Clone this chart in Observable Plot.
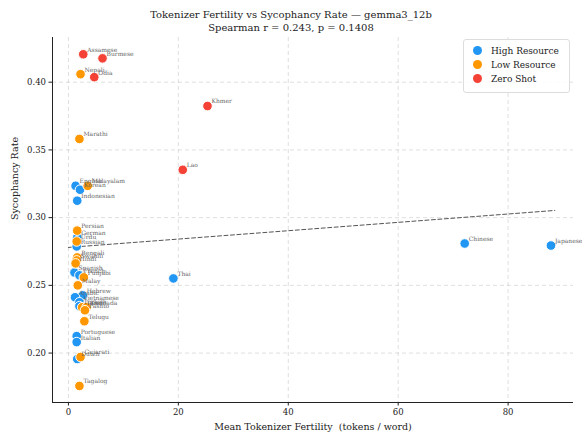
<!DOCTYPE html>
<html><head><meta charset="utf-8">
<script src="https://cdn.jsdelivr.net/npm/d3@7"></script>
<script src="https://cdn.jsdelivr.net/npm/@observablehq/plot@0.6"></script>
<style>
body{margin:0;background:#fff;font-family:"DejaVu Serif",serif;}
#wrap{position:relative;width:582px;height:439px;}
#title{height:37px;text-align:center;font-family:"DejaVu Serif",serif;font-size:10px;line-height:13px;padding-top:8px;box-sizing:border-box;color:#222;}
#legend{position:absolute;left:463px;top:39px;width:107px;height:54px;border:1px solid #ddd;border-radius:3px;background:rgba(255,255,255,0.85);font-family:"DejaVu Serif",serif;font-size:9px;color:#222;box-sizing:border-box;}
#legend .row{position:absolute;left:9px;height:14px;line-height:14px;}
#legend .dot{display:inline-block;width:9px;height:9px;border-radius:50%;margin-right:9px;vertical-align:-1px;}
</style></head>
<body><div id="wrap"><div id="title">Tokenizer Fertility vs Sycophancy Rate — gemma3_12b<br>Spearman r = 0.243,  p = 0.1408</div><div id="chart"></div><div id="legend"></div></div>
<script>
const groups = ["High Resource", "Low Resource", "Zero Shot"];
const groupColors = ["#2196F3", "#FF9800", "#F44336"];

const highLangs = ["English","Korean","Indonesian","German","Russian","Spanish","French","Hebrew","Arabic","Vietnamese","Turkish","Portuguese","Italian","Dutch","Thai","Chinese","Japanese"];
const highFert  = [1.3, 2.1, 1.6, 1.6, 1.5, 1.1, 2.0, 2.6, 1.2, 2.0, 2.0, 1.5, 1.5, 1.6, 19.1, 72.1, 87.8];
const highSyc   = [0.3235, 0.3206, 0.3125, 0.2853, 0.2787, 0.2595, 0.2574, 0.2426, 0.2412, 0.2375, 0.2346, 0.2125, 0.2081, 0.1956, 0.2551, 0.2809, 0.2794];

const lowLangs = ["Nepali","Marathi","Malayalam","Persian","Urdu","Bengali","Swahili","Hindi","Punjabi","Malay","Tamil","Kannada","Pashto","Telugu","Gujarati","Tagalog"];
const lowFert  = [2.2, 2.0, 3.5, 1.6, 1.5, 1.6, 1.5, 1.3, 2.8, 1.7, 2.5, 3.3, 3.0, 2.9, 2.2, 2.0];
const lowSyc   = [0.4059, 0.3581, 0.3235, 0.2904, 0.2824, 0.2706, 0.2684, 0.2662, 0.2559, 0.2500, 0.2338, 0.2338, 0.2316, 0.2235, 0.1971, 0.1757];

const zeroLangs = ["Assamese","Burmese","Odia","Khmer","Lao"];
const zeroFert  = [2.7, 6.2, 4.7, 25.3, 20.8];
const zeroSyc   = [0.4206, 0.4176, 0.4037, 0.3824, 0.3353];

const trendX = [0.0, 88.5];
const trendY = [0.2780, 0.3053];

const xTicks = [0, 20, 40, 60, 80];
const yTicks = [0.20, 0.25, 0.30, 0.35, 0.40];

const rows = [];
[[highLangs, highFert, highSyc], [lowLangs, lowFert, lowSyc], [zeroLangs, zeroFert, zeroSyc]].forEach(([L, F, S], gi) => {
  L.forEach((name, i) => rows.push({name, group: groups[gi], fert: F[i], syc: S[i]}));
});
const trend = trendX.map((x, i) => ({x, y: trendY[i]}));

const chart = Plot.plot({
  width: 582,
  height: 402,
  marginLeft: 52,
  marginRight: 9,
  marginTop: 0,
  marginBottom: 37,
  style: {fontFamily: "DejaVu Serif, serif", fontSize: "8px", color: "#222", background: "white"},
  x: {domain: [-2.9, 91.9], ticks: xTicks, label: null},
  y: {domain: [0.1635, 0.433], ticks: yTicks, label: null, tickFormat: d3.format(".2f")},
  color: {domain: groups, range: groupColors},
  marks: [
    Plot.gridX(xTicks, {stroke: "#bbb", strokeOpacity: 0.6, strokeDasharray: "4,3", strokeWidth: 0.8}),
    Plot.gridY(yTicks, {stroke: "#bbb", strokeOpacity: 0.6, strokeDasharray: "4,3", strokeWidth: 0.8}),
    Plot.axisX({ticks: xTicks, tickSize: 3.5, tickPadding: 3, fontSize: 8.5, label: null}),
    Plot.axisY({ticks: yTicks, tickSize: 3.5, tickPadding: 3, fontSize: 8.5, tickFormat: d3.format(".2f"), label: null}),
    Plot.ruleX([-2.9], {stroke: "#222", strokeWidth: 1}),
    Plot.ruleY([0.1635], {stroke: "#222", strokeWidth: 1}),
    Plot.line(trend, {x: "x", y: "y", stroke: "#555", strokeWidth: 1, strokeDasharray: "4,2.5"}),
    Plot.dot(rows, {x: "fert", y: "syc", fill: "group", r: 4.8, stroke: "white", strokeWidth: 1}),
    Plot.text(rows, {x: "fert", y: "syc", text: "name", dx: 4, dy: -4.5, textAnchor: "start", fontSize: 6, fill: "#666", stroke: "none"}),
    Plot.text(["Mean Tokenizer Fertility  (tokens / word)"], {frameAnchor: "bottom", dy: 27, fontSize: 9.5, fill: "#222"}),
    Plot.text(["Sycophancy Rate"], {frameAnchor: "left", dx: -38, rotate: -90, fontSize: 9.5, fill: "#222"})
  ]
});
document.getElementById("chart").appendChild(chart);

const leg = document.getElementById("legend");
groups.forEach((g, i) => {
  const r = document.createElement("div");
  r.className = "row";
  r.style.top = (4 + i * 14) + "px";
  r.innerHTML = `<span class="dot" style="background:${groupColors[i]}"></span>${g}`;
  leg.appendChild(r);
});
</script></body></html>
